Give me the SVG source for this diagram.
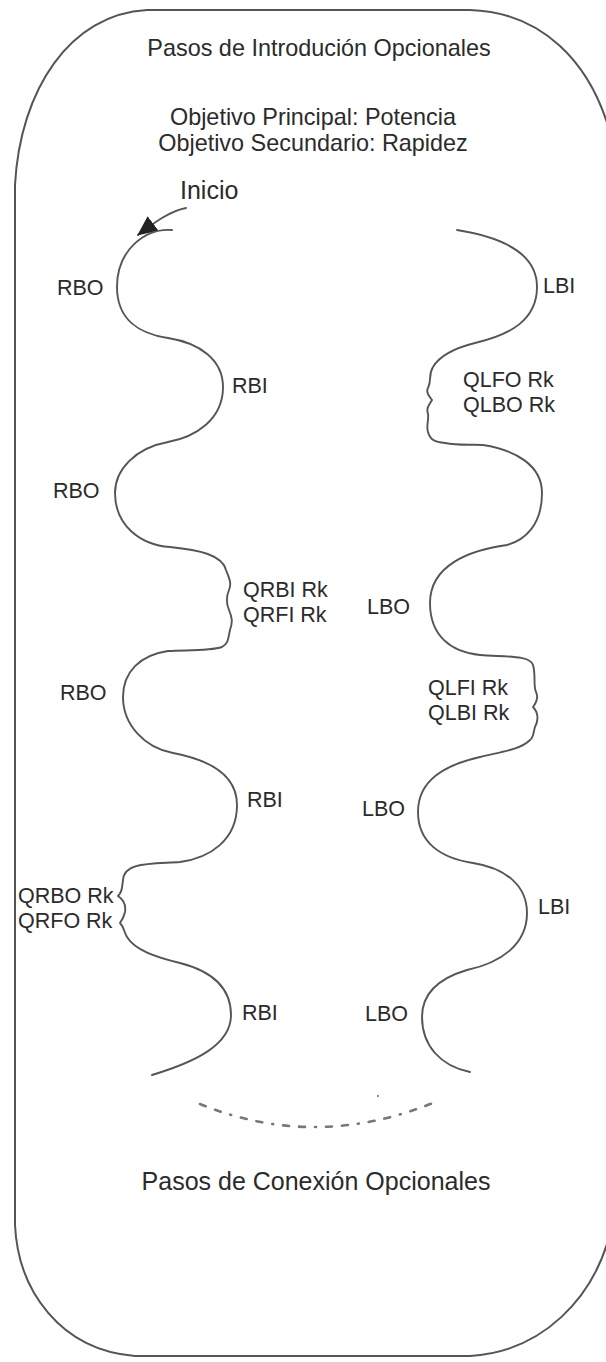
<svg xmlns="http://www.w3.org/2000/svg" width="606" height="1362" viewBox="0 0 606 1362">
<style>
  .t{font-family:"Liberation Sans",Arial,sans-serif;fill:#2b2b2b}
  .title{font-size:23.4px;text-anchor:middle}
  .lbl{font-size:21.5px}
  .wave{fill:none;stroke:#555;stroke-width:1.9;stroke-linecap:round;stroke-linejoin:round}
  .border{fill:none;stroke:#555;stroke-width:2}
</style>
<defs>
  <marker id="ah" markerUnits="userSpaceOnUse" markerWidth="20" markerHeight="18" viewBox="0 0 20 18" refX="19" refY="9" orient="auto">
    <path d="M0,0 L20,9 L0,18 z" fill="#222"/>
  </marker>
</defs>
<rect width="606" height="1362" fill="#fff"/>
<g id="frame">
  <path class="border" d="M147,10 L470,10 C540,12 592,60 612,140 L612,1225 C596,1300 540,1352 470,1356 L135,1356 C60,1350 18,1290 15,1225 L15,185 C20,90 70,14 147,10 Z"/>
</g>
<g id="header">
  <text class="t title" x="319" y="56">Pasos de Introdución Opcionales</text>
  <text class="t title" x="313" y="125">Objetivo Principal: Potencia</text>
  <text class="t title" x="313" y="151">Objetivo Secundario: Rapidez</text>
</g>
<g id="start">
  <text class="t" x="180" y="199" style="font-size:25px">Inicio</text>
</g>
<g id="connectors">
  <path id="inicio-arrow" class="wave" d="M186,208 C170,211 155,222 138,235" marker-end="url(#ah)"/>
  <path id="left-path" class="wave" d="M172,230 C145,228 117,250 117,287 C117,320 140,334 168,338 C200,343 223,360 223,387 C223,420 195,437 168,442 C135,448 115,470 115,493 C115,525 140,545 170,547 C200,550 222,555 226,570 C229,578 232,583 229,590 C226,597 226,603 229,610 C232,617 233,622 230,630 C228,638 229,643 222,647 C210,651 190,650 168,651 C140,655 123,672 123,697 C123,725 145,748 173,753 C210,760 237,775 237,805 C237,840 210,858 180,862 C150,864 124,862 123,880 C122,888 122,892 118,896 C124,900 126,906 125,912 C124,917 122,920 120,923 C124,927 124,932 127,937 C135,950 155,957 180,963 C215,972 231,990 231,1015 C231,1045 195,1062 152,1075"/>
  <path id="right-path" class="wave" d="M457,230 C495,236 537,250 537,287 C537,320 510,335 475,343 C455,348 440,355 433,367 C428,375 432,380 428,388 C425,393 430,397 432,400 C429,405 426,408 428,414 C429,420 426,426 428,432 C430,440 435,442 445,443 C460,446 475,444 483,445 C515,450 542,465 542,493 C542,525 525,540 507,545 C470,550 430,565 430,603 C430,635 450,652 480,655 C505,657 530,655 533,665 C536,675 533,685 536,692 C539,698 536,703 533,707 C538,712 539,720 535,727 C533,733 534,737 530,740 C520,750 500,752 480,757 C445,765 418,780 418,812 C418,842 440,858 473,863 C505,868 527,885 527,913 C527,945 500,963 467,970 C440,978 422,992 422,1017 C422,1045 440,1066 470,1072"/>
  <path id="connect-arc" d="M200,1104 Q318,1152 440,1100" fill="none" stroke="#777" stroke-width="2.6" stroke-linecap="round" stroke-dasharray="6 10 6 10 1 10"/>
  <circle cx="378" cy="1096" r="0.9" fill="#555"/>
</g>
<g id="left-labels">
  <text class="t lbl" x="57" y="295">RBO</text>
  <text class="t lbl" x="232" y="393">RBI</text>
  <text class="t lbl" x="53" y="498">RBO</text>
  <text class="t lbl" x="243" y="597">QRBI Rk</text>
  <text class="t lbl" x="243" y="622">QRFI Rk</text>
  <text class="t lbl" x="60" y="700">RBO</text>
  <text class="t lbl" x="247" y="807">RBI</text>
  <text class="t lbl" x="18" y="903">QRBO Rk</text>
  <text class="t lbl" x="18" y="928">QRFO Rk</text>
  <text class="t lbl" x="242" y="1020">RBI</text>
</g>
<g id="right-labels">
  <text class="t lbl" x="543" y="293">LBI</text>
  <text class="t lbl" x="463" y="387">QLFO Rk</text>
  <text class="t lbl" x="463" y="412">QLBO Rk</text>
  <text class="t lbl" x="367" y="614">LBO</text>
  <text class="t lbl" x="428" y="695">QLFI Rk</text>
  <text class="t lbl" x="428" y="720">QLBI Rk</text>
  <text class="t lbl" x="362" y="816">LBO</text>
  <text class="t lbl" x="538" y="914">LBI</text>
  <text class="t lbl" x="365" y="1021">LBO</text>
</g>
<g id="footer">
  <text class="t" x="316" y="1190" style="font-size:25px;text-anchor:middle">Pasos de Conexión Opcionales</text>
</g>
</svg>
